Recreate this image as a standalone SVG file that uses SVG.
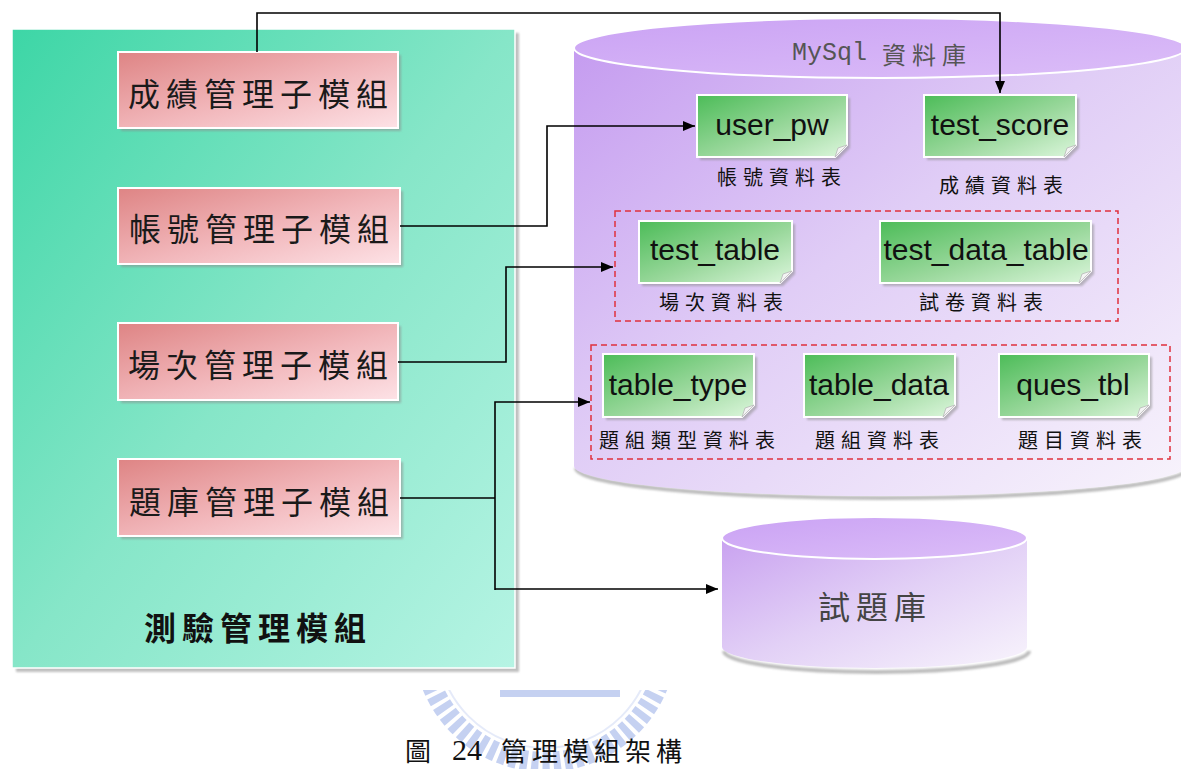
<svg xmlns="http://www.w3.org/2000/svg" width="1181" height="769" viewBox="0 0 1181 769">
  <defs>
    <linearGradient id="gPanel" x1="0" y1="0" x2="1" y2="1">
      <stop offset="0" stop-color="#3dd6a6"/>
      <stop offset="0.5" stop-color="#86e6c8"/>
      <stop offset="1" stop-color="#b6f4e4"/>
    </linearGradient>
    <linearGradient id="gPink" x1="0" y1="0" x2="1" y2="1">
      <stop offset="0" stop-color="#de8484"/>
      <stop offset="0.55" stop-color="#f2b8bc"/>
      <stop offset="1" stop-color="#fde2e6"/>
    </linearGradient>
    <linearGradient id="gGreen" x1="0" y1="0" x2="1" y2="1">
      <stop offset="0" stop-color="#4cbc58"/>
      <stop offset="0.55" stop-color="#9ad89c"/>
      <stop offset="1" stop-color="#dcf6dc"/>
    </linearGradient>
    <linearGradient id="gCylBody" x1="0" y1="0" x2="1" y2="1">
      <stop offset="0" stop-color="#c59cf0"/>
      <stop offset="0.45" stop-color="#e0cdf6"/>
      <stop offset="1" stop-color="#f8f4fc"/>
    </linearGradient>
    <linearGradient id="gCylTop" x1="0" y1="0" x2="1" y2="1">
      <stop offset="0" stop-color="#caa2f4"/>
      <stop offset="1" stop-color="#dcbef8"/>
    </linearGradient>
    <linearGradient id="gSmallBody" x1="0" y1="0" x2="1" y2="1">
      <stop offset="0" stop-color="#c9a2f0"/>
      <stop offset="0.5" stop-color="#e2d0f6"/>
      <stop offset="1" stop-color="#f8f4fc"/>
    </linearGradient>
    <filter id="soft" x="-10%" y="-10%" width="130%" height="130%">
      <feGaussianBlur stdDeviation="1.2"/>
    </filter>
    <marker id="arrow" viewBox="0 0 12 10" refX="12" refY="5" markerWidth="12" markerHeight="10" markerUnits="userSpaceOnUse" orient="auto">
      <path d="M0 0 L12 5 L0 10 Z" fill="#000"/>
    </marker>
    <clipPath id="wmClip">
      <rect x="380" y="690" width="340" height="79"/>
    </clipPath>
    <style>
      .cjk { font-family: "Noto Sans CJK TC", "Noto Sans CJK SC", sans-serif; }
      .mod { font-size: 32px; letter-spacing: 6px; fill: #1a1a1a; text-anchor: middle; dominant-baseline: central; }
      .pink { fill: url(#gPink); stroke: #ffffff; stroke-width: 2; }
      .shadow { fill: #8c8c8c; opacity: 0.55; filter: url(#soft); }
      .tbl { fill: url(#gGreen); stroke: #ffffff; stroke-width: 2; }
      .fold { fill: #f4f4f4; stroke: #b8b8b8; stroke-width: 0.8; }
      .tname { font-family: "Liberation Sans", Arial, sans-serif; font-size: 30px; fill: #111; text-anchor: middle; }
      .tlabel { font-size: 20px; letter-spacing: 6px; fill: #111; text-anchor: middle; dominant-baseline: central; }
      .group { fill: none; stroke: #e0303c; stroke-width: 1.5; stroke-dasharray: 6 4; }
      .conn { fill: none; stroke: #000; stroke-width: 1.6; }
    </style>
  </defs>

  <rect width="1181" height="769" fill="#ffffff"/>

  <!-- faint seal behind the caption -->
  <g id="seal" clip-path="url(#wmClip)" opacity="0.45">
    <circle cx="545" cy="640" r="122" fill="none" stroke="#7f9ae2" stroke-width="20" stroke-dasharray="7 4"/>
    <circle cx="545" cy="640" r="108" fill="none" stroke="#c6d2f2" stroke-width="2"/>
    <rect x="500" y="690" width="120" height="7" fill="#7f9ae2"/>
  </g>

  <!-- module panel -->
  <g id="panel">
    <rect x="16" y="33" width="503" height="639" class="shadow"/>
    <rect x="12" y="29" width="503" height="639" fill="url(#gPanel)" stroke="#ffffff" stroke-width="1.5"/>
    <text x="258" y="626" class="cjk" font-size="32" font-weight="bold" letter-spacing="6" text-anchor="middle" dominant-baseline="central" fill="#111">測驗管理模組</text>
  </g>

  <g id="score-module">
    <rect x="121" y="55" width="280" height="76" class="shadow"/>
    <rect x="118" y="52" width="280" height="76" class="pink"/>
    <text x="261" y="92" class="cjk mod">成績管理子模組</text>
  </g>
  <g id="account-module">
    <rect x="121" y="191" width="282" height="76" class="shadow"/>
    <rect x="118" y="188" width="282" height="76" class="pink"/>
    <text x="262" y="227" class="cjk mod">帳號管理子模組</text>
  </g>
  <g id="session-module">
    <rect x="121" y="326" width="280" height="77" class="shadow"/>
    <rect x="118" y="323" width="280" height="77" class="pink"/>
    <text x="261" y="363" class="cjk mod">場次管理子模組</text>
  </g>
  <g id="bank-module">
    <rect x="121" y="462" width="282" height="77" class="shadow"/>
    <rect x="118" y="459" width="282" height="77" class="pink"/>
    <text x="262" y="500" class="cjk mod">題庫管理子模組</text>
  </g>

  <!-- MySql database cylinder -->
  <g id="mysql-db">
    <path d="M576 468 A306 30 0 0 0 1188 468" fill="none" stroke="#bdbdbd" stroke-width="4" filter="url(#soft)"/>
    <path d="M574 48 V466 A306 30 0 0 0 1186 466 V48 Z" fill="url(#gCylBody)"/>
    <ellipse cx="880" cy="48" rx="306" ry="30" fill="url(#gCylTop)" stroke="#ffffff" stroke-width="2"/>
    <text y="53" class="cjk" font-size="24" dominant-baseline="central" fill="#555"><tspan x="792" font-family="'Liberation Mono', monospace" font-size="25">MySql</tspan><tspan x="882" letter-spacing="6">資料庫</tspan></text>
  </g>

  <g id="user_pw">
    <path d="M700 98 H850 V148 L838 160 H700 Z" class="shadow"/>
    <path d="M697 95 H847 V145 L835 157 H697 Z" class="tbl"/>
    <path d="M847 145 L835 157 L838 148 Z" class="fold"/>
    <text x="772" y="135" class="tname">user_pw</text>
    <text x="782" y="176" class="cjk tlabel">帳號資料表</text>
  </g>
  <g id="test_score">
    <path d="M927 98 H1079 V148 L1067 160 H927 Z" class="shadow"/>
    <path d="M924 95 H1076 V145 L1064 157 H924 Z" class="tbl"/>
    <path d="M1076 145 L1064 157 L1067 148 Z" class="fold"/>
    <text x="1000" y="135" class="tname">test_score</text>
    <text x="1004" y="184" class="cjk tlabel">成績資料表</text>
  </g>

  <rect id="session-group" x="615" y="211" width="503" height="110" class="group"/>
  <g id="test_table">
    <path d="M642 224 H795 V274 L783 286 H642 Z" class="shadow"/>
    <path d="M639 221 H792 V271 L780 283 H639 Z" class="tbl"/>
    <path d="M792 271 L780 283 L783 274 Z" class="fold"/>
    <text x="715" y="260" class="tname">test_table</text>
    <text x="724" y="301" class="cjk tlabel">場次資料表</text>
  </g>
  <g id="test_data_table">
    <path d="M883 224 H1094 V274 L1082 286 H883 Z" class="shadow"/>
    <path d="M880 221 H1091 V271 L1079 283 H880 Z" class="tbl"/>
    <path d="M1091 271 L1079 283 L1082 274 Z" class="fold"/>
    <text x="986" y="260" class="tname">test_data_table</text>
    <text x="984" y="301" class="cjk tlabel">試卷資料表</text>
  </g>

  <rect id="bank-group" x="591" y="345" width="579" height="114" class="group"/>
  <g id="table_type">
    <path d="M606 357 H757 V408 L745 420 H606 Z" class="shadow"/>
    <path d="M603 354 H754 V405 L742 417 H603 Z" class="tbl"/>
    <path d="M754 405 L742 417 L745 408 Z" class="fold"/>
    <text x="678" y="395" class="tname">table_type</text>
    <text x="690" y="439" class="cjk tlabel">題組類型資料表</text>
  </g>
  <g id="table_data">
    <path d="M807 357 H958 V408 L946 420 H807 Z" class="shadow"/>
    <path d="M804 354 H955 V405 L943 417 H804 Z" class="tbl"/>
    <path d="M955 405 L943 417 L946 408 Z" class="fold"/>
    <text x="879" y="395" class="tname">table_data</text>
    <text x="880" y="439" class="cjk tlabel">題組資料表</text>
  </g>
  <g id="ques_tbl">
    <path d="M1002 357 H1152 V408 L1140 420 H1002 Z" class="shadow"/>
    <path d="M999 354 H1149 V405 L1137 417 H999 Z" class="tbl"/>
    <path d="M1149 405 L1137 417 L1140 408 Z" class="fold"/>
    <text x="1073" y="395" class="tname">ques_tbl</text>
    <text x="1083" y="439" class="cjk tlabel">題目資料表</text>
  </g>

  <!-- question bank cylinder -->
  <g id="question-bank">
    <path d="M724 651 A152.5 21 0 0 0 1029 651" fill="none" stroke="#bdbdbd" stroke-width="4" filter="url(#soft)"/>
    <path d="M722 538 V647 A152.5 21 0 0 0 1027 647 V538 Z" fill="url(#gSmallBody)"/>
    <ellipse cx="874.5" cy="538" rx="152.5" ry="21" fill="url(#gCylTop)" stroke="#ffffff" stroke-width="2"/>
    <text x="875" y="605" class="cjk" font-size="32" letter-spacing="6" text-anchor="middle" dominant-baseline="central" fill="#444">試題庫</text>
  </g>

  <!-- connectors -->
  <g id="connectors">
    <path class="conn" d="M257 52 V13 H1000 V93" marker-end="url(#arrow)"/>
    <path class="conn" d="M400 226 H547 V126 H695" marker-end="url(#arrow)"/>
    <path class="conn" d="M398 362 H506 V267 H613" marker-end="url(#arrow)"/>
    <path class="conn" d="M400 498 H495"/>
    <path class="conn" d="M495 590 V402 H590" marker-end="url(#arrow)"/>
    <path class="conn" d="M495 589 H718" marker-end="url(#arrow)"/>
  </g>

  <!-- caption -->
  <text id="caption" class="cjk" font-size="26" y="749" dominant-baseline="central" fill="#111"><tspan x="405">圖</tspan><tspan x="452" font-family="'Liberation Serif', serif" font-size="30">24</tspan><tspan x="501" letter-spacing="5">管理模組架構</tspan></text>
</svg>
